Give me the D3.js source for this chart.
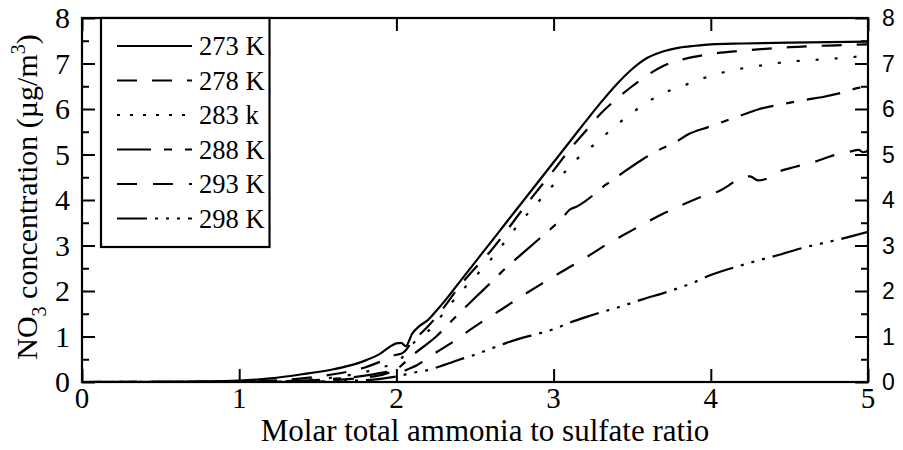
<!DOCTYPE html>
<html>
<head>
<meta charset="utf-8">
<script src="https://cdn.jsdelivr.net/npm/d3@7"></script>
<style>
  html, body { margin: 0; padding: 0; background: #fff; }
  svg { display: block; }
</style>
</head>
<body>
<svg id="chart" width="903" height="450"></svg>
<script>
// Nitrate concentration vs. molar total ammonia / sulfate ratio, per temperature.
const temperatures = ["273 K", "278 K", "283 k", "288 K", "293 K", "298 K"];

const s273 = [[0,0],[0.5,0.005],[1.0,0.03],[1.2,0.08],[1.4,0.17],[1.6,0.28],[1.7,0.36],[1.8,0.47],[1.9,0.63],[1.97,0.8],[2.0,0.85],[2.03,0.86],[2.06,0.79],[2.1,1.06],[2.15,1.24],[2.2,1.36],[2.25,1.55],[2.3,1.75],[2.4,2.19],[2.5,2.63],[2.6,3.07],[2.7,3.51],[2.8,3.95],[2.9,4.39],[3.0,4.83],[3.1,5.27],[3.2,5.71],[3.3,6.14],[3.4,6.54],[3.5,6.88],[3.55,7.02],[3.6,7.13],[3.65,7.21],[3.7,7.27],[3.8,7.35],[3.9,7.39],[4.0,7.42],[4.2,7.44],[4.5,7.46],[5.0,7.48]];
const s278 = [[0,0],[1.0,0.01],[1.4,0.08],[1.6,0.17],[1.8,0.32],[1.9,0.45],[2.0,0.6],[2.03,0.62],[2.06,0.7],[2.1,0.9],[2.15,1.05],[2.2,1.22],[2.3,1.63],[2.4,2.1],[2.5,2.5],[2.6,2.88],[2.7,3.32],[2.8,3.78],[2.9,4.22],[3.0,4.65],[3.1,5.1],[3.2,5.5],[3.3,5.9],[3.4,6.22],[3.5,6.5],[3.6,6.75],[3.7,6.95],[3.8,7.07],[3.9,7.15],[4.0,7.21],[4.2,7.28],[4.5,7.36],[4.8,7.4],[5.0,7.42]];
const s283 = [[0,0],[1.0,0.005],[1.4,0.04],[1.6,0.1],[1.8,0.22],[1.9,0.32],[2.0,0.42],[2.04,0.55],[2.08,0.75],[2.15,0.98],[2.23,1.21],[2.32,1.61],[2.42,2.02],[2.51,2.35],[2.6,2.69],[2.69,3.08],[2.78,3.48],[2.88,3.87],[2.97,4.22],[3.07,4.61],[3.17,4.97],[3.27,5.25],[3.38,5.59],[3.49,5.89],[3.6,6.16],[3.7,6.35],[3.81,6.49],[3.93,6.65],[4.04,6.77],[4.15,6.86],[4.27,6.93],[4.47,7.03],[4.7,7.09],[4.9,7.14],[5.0,7.18]];
const s288 = [[0,0],[1.0,0.005],[1.4,0.03],[1.6,0.07],[1.8,0.14],[1.9,0.2],[2.0,0.28],[2.05,0.42],[2.1,0.58],[2.2,0.85],[2.25,0.99],[2.35,1.34],[2.44,1.65],[2.5,1.85],[2.6,2.18],[2.7,2.52],[2.8,2.82],[2.9,3.12],[3.0,3.42],[3.05,3.58],[3.1,3.78],[3.15,3.86],[3.2,3.97],[3.33,4.33],[3.42,4.55],[3.56,4.88],[3.67,5.1],[3.77,5.26],[3.86,5.45],[3.99,5.61],[4.2,5.87],[4.3,5.99],[4.43,6.09],[4.6,6.2],[4.72,6.27],[4.86,6.38],[4.95,6.47],[5.0,6.42]];
const s293 = [[0,0],[1.0,0.0],[1.4,0.02],[1.6,0.04],[1.8,0.1],[1.9,0.15],[1.95,0.2],[2.0,0.22],[2.03,0.2],[2.06,0.26],[2.13,0.37],[2.2,0.52],[2.24,0.62],[2.36,0.88],[2.47,1.15],[2.57,1.38],[2.68,1.62],[2.79,1.87],[2.91,2.13],[3.02,2.36],[3.12,2.56],[3.24,2.81],[3.34,3.03],[3.45,3.24],[3.56,3.45],[3.68,3.67],[3.78,3.83],[3.89,4.0],[3.99,4.13],[4.05,4.19],[4.11,4.31],[4.2,4.5],[4.25,4.52],[4.3,4.43],[4.35,4.46],[4.43,4.62],[4.54,4.73],[4.67,4.85],[4.77,4.97],[4.88,5.06],[4.94,5.1],[4.97,5.05],[5.0,5.08]];
const s298 = [[0,0],[1.0,0.0],[1.5,0.01],[1.8,0.04],[1.9,0.07],[2.0,0.12],[2.1,0.2],[2.2,0.26],[2.3,0.37],[2.4,0.49],[2.5,0.6],[2.6,0.73],[2.7,0.86],[2.8,0.97],[2.9,1.06],[3.0,1.16],[3.1,1.3],[3.2,1.42],[3.3,1.53],[3.4,1.63],[3.56,1.81],[3.74,2.0],[3.9,2.2],[4.0,2.35],[4.18,2.55],[4.3,2.67],[4.43,2.79],[4.61,2.97],[4.75,3.08],[4.88,3.19],[5.0,3.3]];

const xTicks = [0, 1, 2, 3, 4, 5];
const yTicks = [0, 1, 2, 3, 4, 5, 6, 7, 8];
const yMinorTicks = [0.5, 1.5, 2.5, 3.5, 4.5, 5.5, 6.5, 7.5];

const seriesList = [s273, s278, s283, s288, s293, s298];
// line patterns: [in plot, in legend]
const dashes = [
  ["none", "none"],
  ["20,15", "20,15"],
  ["3,16", "3,10"],
  ["34,13,8,13", "34,13,8,13"],
  ["20,16", "20,16"],
  ["30,8,3,8,3,8,3,8", "30,8,3,8,3,8,3,8"]
];

const svg = d3.select("#chart");
const L = 82, R = 868, T = 18, B = 382;
const x = d3.scaleLinear().domain([0, 5]).range([L, R]);
const y = d3.scaleLinear().domain([0, 8]).range([B, T]);

const serif = "'Liberation Serif', 'Times New Roman', serif";
const sans = "'Liberation Sans', Arial, sans-serif";

// curves
const line = d3.line().x(d => x(d[0])).y(d => y(d[1])).curve(d3.curveMonotoneX);
svg.append("clipPath").attr("id", "plotclip")
  .append("rect").attr("x", L).attr("y", T - 2).attr("width", R - L).attr("height", B - T + 2);
svg.append("g").attr("clip-path", "url(#plotclip)")
  .selectAll("path").data(seriesList).join("path")
  .attr("d", d => line(d))
  .attr("fill", "none").attr("stroke", "#000").attr("stroke-width", 2.2)
  .attr("stroke-dasharray", (d, i) => dashes[i][0]);

// axes: ticks point inward on all four sides
const tickLen = 13, minorLen = 7;
const axisLeft = d3.axisRight(y).tickValues(yTicks).tickSize(tickLen).tickFormat("");
const axisLeftMinor = d3.axisRight(y).tickValues(yMinorTicks).tickSize(minorLen).tickFormat("");
const axisRight = d3.axisLeft(y).tickValues(yTicks).tickSize(tickLen).tickFormat("");
const axisRightMinor = d3.axisLeft(y).tickValues(yMinorTicks).tickSize(minorLen).tickFormat("");
const axisBottom = d3.axisTop(x).tickValues(xTicks).tickSize(tickLen).tickFormat("");
const axisTop = d3.axisBottom(x).tickValues(xTicks).tickSize(tickLen).tickFormat("");

function styleAxis(g) {
  g.selectAll(".domain").remove();
  g.selectAll(".tick line").attr("stroke", "#000").attr("stroke-width", 2);
}
svg.append("g").attr("transform", `translate(${L},0)`).call(axisLeft).call(styleAxis);
svg.append("g").attr("transform", `translate(${L},0)`).call(axisLeftMinor).call(styleAxis);
svg.append("g").attr("transform", `translate(${R},0)`).call(axisRight).call(styleAxis);
svg.append("g").attr("transform", `translate(${R},0)`).call(axisRightMinor).call(styleAxis);
svg.append("g").attr("transform", `translate(0,${B})`).call(axisBottom).call(styleAxis);
svg.append("g").attr("transform", `translate(0,${T})`).call(axisTop).call(styleAxis);

// frame
svg.append("rect").attr("x", L).attr("y", T).attr("width", R - L).attr("height", B - T)
  .attr("fill", "none").attr("stroke", "#000").attr("stroke-width", 2.2);

// tick labels
svg.append("g").selectAll("text").data(yTicks).join("text")
  .attr("x", L - 12).attr("y", d => y(d)).attr("dy", "0.34em")
  .attr("text-anchor", "end").attr("font-family", serif).attr("font-size", 30)
  .text(d => d);
svg.append("g").selectAll("text").data(yTicks).join("text")
  .attr("x", R + 14).attr("y", d => y(d)).attr("dy", "0.36em")
  .attr("text-anchor", "start").attr("font-family", sans).attr("font-size", 23)
  .text(d => d);
svg.append("g").selectAll("text").data(xTicks).join("text")
  .attr("x", d => x(d)).attr("y", B + 26)
  .attr("text-anchor", "middle").attr("font-family", serif).attr("font-size", 29)
  .text(d => d);

// axis titles
svg.append("text").attr("x", 485).attr("y", 441)
  .attr("text-anchor", "middle").attr("font-family", serif).attr("font-size", 31)
  .text("Molar total ammonia to sulfate ratio");

const yt = svg.append("text")
  .attr("transform", `translate(37,${(T + B) / 2 - 3}) rotate(-90)`)
  .attr("text-anchor", "middle").attr("font-family", serif).attr("font-size", 30);
yt.append("tspan").text("NO");
yt.append("tspan").attr("font-size", 20).attr("dy", 9).text("3");
yt.append("tspan").attr("dy", -9).text(" concentration (\u00B5g/m");
yt.append("tspan").attr("font-size", 20).attr("dy", -12).text("3");
yt.append("tspan").attr("dy", 12).text(")");

// legend
const lg = svg.append("g");
const lgX = 101, lgY = 18, rowH = 34.5;
const rows = lg.selectAll("g").data(temperatures).join("g")
  .attr("transform", (d, i) => `translate(0,${lgY + 28 + i * rowH})`);
rows.append("line").attr("x1", lgX + 16).attr("x2", lgX + 91).attr("y1", 0).attr("y2", 0)
  .attr("stroke", "#000").attr("stroke-width", 2.2)
  .attr("stroke-dasharray", (d, i) => dashes[i][1]);
rows.append("text").attr("x", lgX + 98).attr("y", 0).attr("dy", "0.34em")
  .attr("font-family", serif).attr("font-size", 26.5).text(d => d);
const bb = lg.node().getBBox();
lg.insert("rect", ":first-child").attr("x", lgX).attr("y", lgY)
  .attr("width", bb.x + bb.width + 5 - lgX).attr("height", 229)
  .attr("fill", "#fff").attr("stroke", "#000").attr("stroke-width", 2.2);
</script>
</body>
</html>
